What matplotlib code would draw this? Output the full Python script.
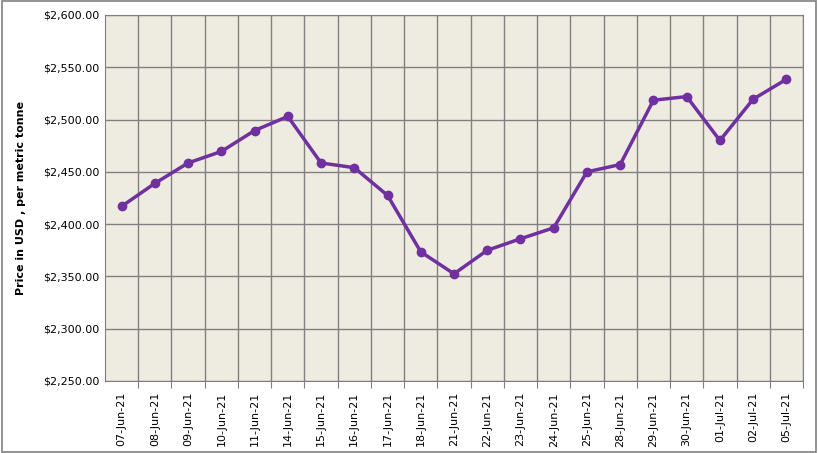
import matplotlib.pyplot as plt
from matplotlib.ticker import FuncFormatter

dates = ["07-Jun-21", "08-Jun-21", "09-Jun-21", "10-Jun-21", "11-Jun-21", "14-Jun-21",
         "15-Jun-21", "16-Jun-21", "17-Jun-21", "18-Jun-21", "21-Jun-21", "22-Jun-21",
         "23-Jun-21", "24-Jun-21", "25-Jun-21", "28-Jun-21", "29-Jun-21", "30-Jun-21",
         "01-Jul-21", "02-Jul-21", "05-Jul-21"]
prices = [2417, 2439, 2458.5, 2469.5, 2489.5, 2503, 2458.5, 2454, 2427.5, 2373.5,
          2352.5, 2375, 2386, 2396.5, 2450, 2457, 2518.5, 2522, 2480, 2519.5, 2538.5]

fig = plt.figure(figsize=(8.18, 4.53), dpi=100)
fig.patches.append(plt.Rectangle((0.002, 0.002), 0.996, 0.996, transform=fig.transFigure,
                                 fill=False, edgecolor="#808080", linewidth=1.2))
ax = fig.add_axes([105 / 818, 1 - 381 / 453, 698 / 818, 366 / 453])
ax.set_facecolor("#EEEBE0")

x = range(len(dates))
ax.plot(x, prices, color="#7030A0", linewidth=2.5, marker="o", markersize=6, zorder=3)

ax.set_xlim(-0.5, len(dates) - 0.5)
ax.set_ylim(2250, 2600)
ax.set_yticks(range(2250, 2601, 50))
ax.yaxis.set_major_formatter(FuncFormatter(lambda v, p: "${:,.2f}".format(v)))
ax.set_xticks([i + 0.5 for i in x])
ax.set_xticklabels([])
ax.set_xticks(list(x), labels=dates, minor=True, rotation=90)
ax.tick_params(axis="x", which="major", length=5, color="#808080")
ax.tick_params(axis="x", which="minor", length=0, labelsize=8, pad=8)
ax.tick_params(axis="y", length=0, labelsize=8, pad=4)

ax.grid(True, axis="y", color="#808080", linewidth=1)
ax.grid(True, axis="x", which="major", color="#808080", linewidth=1)
ax.set_axisbelow(True)
for s in ax.spines.values():
    s.set_color("#808080")

ax.set_ylabel("Price in USD , per metric tonne", fontsize=8, fontweight="bold", labelpad=12)

fig.savefig("out.png", dpi=100)
